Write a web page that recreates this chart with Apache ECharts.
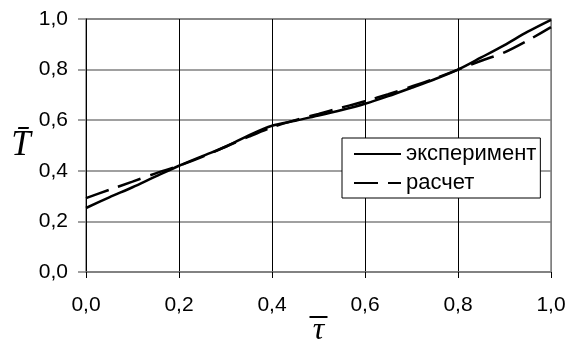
<!DOCTYPE html>
<html>
<head>
<meta charset="utf-8">
<script src="https://cdn.jsdelivr.net/npm/echarts@6/dist/echarts.min.js"></script>
<style>
  html, body { margin: 0; padding: 0; background: #fff; }
  #chart { width: 568px; height: 342px; }
</style>
</head>
<body>
<div id="chart"></div>
<script>
// значения
var tau = [0, 0.05, 0.1, 0.15, 0.2, 0.25, 0.3, 0.35, 0.4, 0.45, 0.5,
  0.55, 0.6, 0.65, 0.7, 0.75, 0.8, 0.85, 0.9, 0.95, 1.0]
var experiment = [0.253, 0.295, 0.335, 0.378, 0.42, 0.458, 0.495, 0.54, 0.578, 0.598, 0.618,
  0.64, 0.665, 0.695, 0.728, 0.762, 0.8, 0.848, 0.897, 0.95, 0.997]
var calc = [0.292, 0.325, 0.357, 0.39, 0.42, 0.455, 0.495, 0.535, 0.572, 0.6, 0.625,
  0.65, 0.675, 0.703, 0.733, 0.765, 0.8, 0.835, 0.868, 0.915, 0.968]
var ticks = [0, 0.2, 0.4, 0.6, 0.8, 1.0]

function pairs (ys) {
  return tau.map(function (t, i) { return [t, ys[i]] })
}
function fmt (v) {
  return v.toFixed(1).replace('.', ',')
}

var chart = echarts.init(document.getElementById('chart'))
chart.setOption({
  animation: false,
  textStyle: { fontFamily: 'Liberation Sans' },
  grid: {
    left: 86,
    right: 17,
    top: 19,
    bottom: 70,
    outerBoundsMode: 'none',
    containLabel: false,
    show: true,
    borderColor: '#808080',
    borderWidth: 1.5
  },
  legend: {
    orient: 'vertical',
    left: 342,
    top: 138,
    itemWidth: 47,
    itemHeight: 14,
    itemGap: 7,
    padding: [5, 4, 4, 11],
    backgroundColor: '#fff',
    borderColor: '#000',
    borderWidth: 1,
    borderRadius: 0,
    itemStyle: { opacity: 0 },
    textStyle: { fontSize: 22, color: '#000', fontFamily: 'Liberation Sans' }
  },
  xAxis: {
    type: 'value',
    min: ticks[0],
    max: ticks[ticks.length - 1],
    interval: 0.2,
    // черта над τ рисуется отдельным блоком rich-текста
    name: '{bar|}\n{t|τ}',
    nameLocation: 'middle',
    nameMoveOverlap: false,
    nameGap: 42,
    nameTextStyle: {
      align: 'center',
      verticalAlign: 'top',
      rich: {
        bar: { width: 18, height: 2, backgroundColor: '#000', lineHeight: 6 },
        t: { fontFamily: 'Liberation Serif', fontStyle: 'italic', fontSize: 32, color: '#000', lineHeight: 22 }
      }
    },
    axisLine: { show: true, lineStyle: { color: '#808080', width: 1.5 } },
    axisTick: { show: true, inside: false, length: 6, lineStyle: { color: '#000', width: 1 } },
    axisLabel: { margin: 23, fontSize: 21, color: '#000', formatter: fmt },
    splitLine: {
      show: true,
      lineStyle: { color: ['#000', '#000', '#000', '#000', '#000', '#808080'], width: 1 }
    }
  },
  yAxis: {
    type: 'value',
    min: ticks[0],
    max: ticks[ticks.length - 1],
    interval: 0.2,
    name: 'T\u0304',
    nameLocation: 'middle',
    nameRotate: 0,
    nameMoveOverlap: false,
    nameGap: 65,
    nameTextStyle: {
      fontFamily: 'Liberation Serif',
      fontStyle: 'italic',
      fontSize: 35,
      color: '#000',
      align: 'center',
      verticalAlign: 'middle',
      padding: [22, 0, 0, 0]
    },
    axisLine: { show: true, lineStyle: { color: '#000', width: 1 } },
    axisTick: { show: true, inside: false, length: 8, lineStyle: { color: '#808080', width: 1.5 } },
    axisLabel: { margin: 18, fontSize: 21, color: '#000', formatter: fmt },
    splitLine: { show: true, lineStyle: { color: '#808080', width: 1.5 } }
  },
  series: [{
    name: 'эксперимент',
    type: 'line',
    data: pairs(experiment),
    symbol: 'none',
    smooth: 0.3,
    lineStyle: { color: '#000', width: 2.5, type: 'solid' },
    itemStyle: { color: '#000' }
  }, {
    name: 'расчет',
    type: 'line',
    data: pairs(calc),
    symbol: 'none',
    smooth: 0.3,
    lineStyle: { color: '#000', width: 2.5, type: [24, 10] },
    itemStyle: { color: '#000' }
  }]
})
</script>
</body>
</html>
